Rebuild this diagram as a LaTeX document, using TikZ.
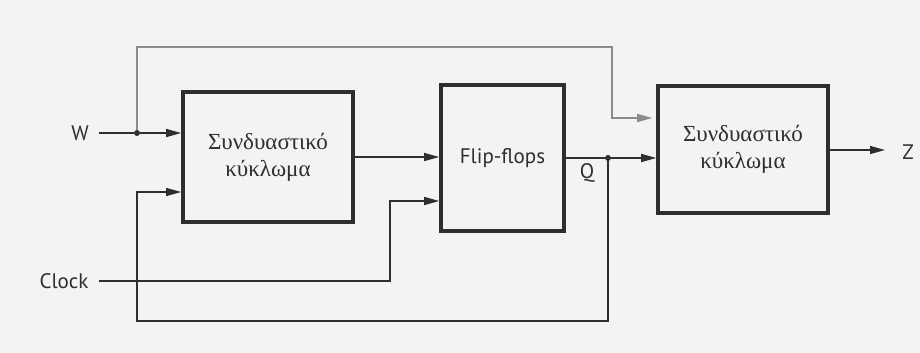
\documentclass[tikz,border=0pt]{standalone}
\usepackage{fontspec}
\setmainfont{Liberation Serif}
\newfontfamily\labelfont{PT Sans}
\newfontfamily\grfont{Liberation Serif}
\usetikzlibrary{arrows.meta,calc}
\definecolor{bgc}{HTML}{F3F3F3}
\definecolor{ink}{HTML}{2E2E2E}
\definecolor{grayline}{HTML}{8A8A8A}
\begin{document}
\begin{tikzpicture}[x=1pt,y=-1pt,
  blk/.style={draw=ink,line width=3.6pt,rectangle,inner sep=0pt,align=center,text=ink},
  greek/.style={font=\grfont\fontsize{23}{27}\selectfont},
  lab/.style={font=\labelfont\fontsize{21}{24}\selectfont,text=ink,inner sep=0pt},
  wire/.style={draw=ink,line width=1.3pt},
  arr/.style={wire,-{Triangle[length=15pt,width=8pt]}},
  garr/.style={draw=grayline,line width=1.3pt,-{Triangle[length=15pt,width=8pt]}},
  dotc/.style={circle,fill=ink,inner sep=0pt,minimum size=6pt}]
\fill[bgc] (0,0) rectangle (920,353);
\useasboundingbox (0,0) rectangle (920,353);

\node[blk,greek,minimum width=170pt,minimum height=130pt] (b1) at (268,157) {Συνδυαστικό\\κύκλωμα};
\node[blk,lab,minimum width=123pt,minimum height=146pt,draw=ink,line width=3.6pt] (b2) at (502.5,158) {Flip-flops};
\node[blk,greek,minimum width=170pt,minimum height=127pt] (b3) at (743,149.5) {Συνδυαστικό\\κύκλωμα};

\node[lab] (w) at (80,133) {W};
\node[lab] (clk) at (64,281) {Clock};
\node[lab] (q) at (587,173) {Q};
\node[lab] (z) at (908,152) {Z};

\node[dotc] (wdot) at (137,133) {};
\node[dotc] (qdot) at (608,158) {};
\coordinate (gtop) at (612,47);
\coordinate (fbl) at (137,321);
\coordinate (clkbend) at (390,281);
\coordinate (zend) at (885,150);

% W input
\draw[wire] ($(w.east)+(10,0)$) -- (wdot);
\draw[arr] (wdot) -- (b1.west |- wdot);
% gray bypass
\draw[garr] (wdot) |- (gtop) |- ($(b3.west)+(-4,-31.5)$);
% comb1 -> flip-flops
\draw[arr] (b1.east) -- (b2.west |- b1.east);
% clock
\draw[arr] ($(clk.east)+(10,0)$) -- (clkbend) |- ($(b2.west)+(0,43)$);
% flip-flops -> Q -> comb2
\draw[wire] (b2.east |- qdot) -- (qdot);
\draw[arr] (qdot) -- (b3.west |- qdot);
% feedback
\draw[arr] (qdot) |- (fbl) |- ($(b1.west)+(0,35)$);
% output
\draw[arr] (b3.east |- zend) -- (zend);
\end{tikzpicture}
\end{document}
